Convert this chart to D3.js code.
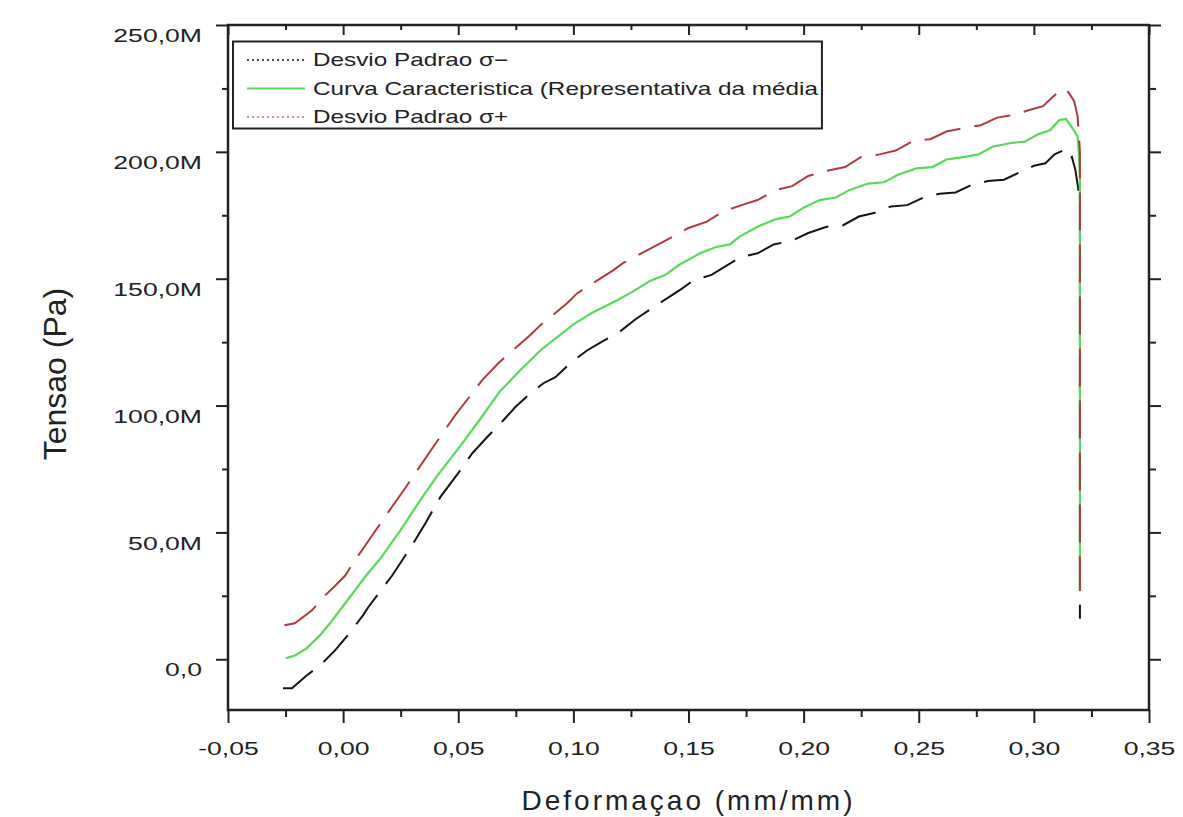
<!DOCTYPE html>
<html>
<head>
<meta charset="utf-8">
<script src="https://cdn.jsdelivr.net/npm/d3@7"></script>
<style>
  body { margin: 0; background: #fff; }
  text { font-family: "Liberation Sans", Arial, sans-serif; fill: #222; }
</style>
</head>
<body>
<svg id="chart" width="1183" height="817"></svg>
<script>
// strain (mm/mm) and stress (MPa)

var strainMenos = [-0.0261, -0.0222, -0.016, -0.010, -0.0035, 0.0025, 0.0087, 0.0109, 0.0213, 0.030, 0.036, 0.0422, 0.0509, 0.0561, 0.063, 0.0696, 0.0748, 0.081, 0.087, 0.0922, 0.099, 0.1061, 0.113, 0.120, 0.127, 0.1348, 0.142, 0.147, 0.1522, 0.160, 0.1726, 0.180, 0.187, 0.195, 0.202, 0.210, 0.217, 0.224, 0.231, 0.238, 0.245, 0.252, 0.259, 0.266, 0.273, 0.280, 0.287, 0.294, 0.300, 0.305, 0.309, 0.3125, 0.315, 0.3165, 0.318, 0.3192, 0.320, 0.320];
var tensaoMenos = [-11.4, -11.4, -6.5, -2.4, 3.5, 10, 17.4, 20.5, 33, 45, 54, 63.9, 74.5, 81.2, 88, 94.2, 99.4, 104.5, 108.8, 111.2, 117, 121.8, 125.5, 129, 134, 138.8, 143, 146, 149.4, 151.5, 158.5, 160, 163.5, 165, 168, 170.5, 171, 174.5, 176, 178.5, 179, 182, 183.5, 184, 187, 188.5, 189, 192, 194.5, 195.5, 199, 200.5, 197, 198, 193, 186, 180, 16];

var strainMedia = [-0.025, -0.021, -0.016, -0.010, -0.005, 0.000, 0.005, 0.010, 0.016, 0.025, 0.033, 0.041, 0.050, 0.059, 0.068, 0.077, 0.086, 0.093, 0.100, 0.108, 0.119, 0.126, 0.133, 0.140, 0.146, 0.155, 0.162, 0.168, 0.172, 0.180, 0.188, 0.194, 0.200, 0.207, 0.214, 0.220, 0.228, 0.235, 0.241, 0.249, 0.256, 0.262, 0.270, 0.276, 0.282, 0.290, 0.296, 0.302, 0.307, 0.311, 0.314, 0.317, 0.319, 0.3195, 0.320, 0.320];
var tensaoMedia = [0.4, 1.5, 4.2, 9.5, 15, 21, 27, 33, 39.5, 51, 62, 72.5, 83, 94, 105.5, 114, 122, 127, 132, 136.5, 141.5, 145, 149, 151.5, 155.5, 160, 162.5, 163.5, 166.5, 170.5, 173.5, 174.5, 178, 181, 182, 185, 187.5, 188, 191, 193.5, 194, 197, 198, 199, 202, 203.5, 204, 207, 208.5, 212.5, 213, 209, 206, 200, 190, 27];

var strainMais = [-0.0255, -0.021, -0.0135, -0.0087, -0.004, 0.0009, 0.0043, 0.012, 0.020, 0.027, 0.0322, 0.0435, 0.0487, 0.0604, 0.0674, 0.0813, 0.0857, 0.0974, 0.1017, 0.1174, 0.1217, 0.1322, 0.142, 0.150, 0.158, 0.165, 0.173, 0.180, 0.188, 0.195, 0.202, 0.210, 0.218, 0.225, 0.233, 0.240, 0.248, 0.255, 0.262, 0.270, 0.277, 0.284, 0.291, 0.298, 0.304, 0.308, 0.3125, 0.315, 0.3175, 0.319, 0.3195, 0.320, 0.320];
var tensaoMais = [13.4, 14.2, 19.3, 24.4, 28.5, 33, 37.9, 48, 58.5, 67.5, 74.5, 89.5, 96.2, 110, 116.7, 127.8, 131.7, 140.4, 144.3, 153.4, 156.2, 161.3, 166, 170, 172.5, 176.5, 179, 181, 185, 186.5, 190.5, 192.5, 194, 198, 199, 200.5, 204.5, 205, 208, 209.5, 210.5, 213.5, 214.5, 216.5, 218, 221.5, 225, 223.5, 220, 214, 207, 200, 27];

var yTicks = [0, 50, 100, 150, 200, 250];
var yMinor = [25, 75, 125, 175, 225];
var xTicks = [-0.05, 0, 0.05, 0.10, 0.15, 0.20, 0.25, 0.30, 0.35];
var xMinor = [-0.025, 0.025, 0.075, 0.125, 0.175, 0.225, 0.275, 0.325];

var legendLabels = ["Desvio Padrao \u03c3\u2212", "Curva Caracteristica (Representativa da m\u00e9dia", "Desvio Padrao \u03c3+"];

var svg = d3.select("#chart");

var x = d3.scaleLinear().domain([-0.05, 0.35]).range([228, 1149]);
var y = d3.scaleLinear().domain([-20, 250]).range([710, 25]);

var fmtY = function(d) { return d === 0 ? "0,0" : d3.format(".1f")(d).replace(".", ",") + "M"; };
var fmtX = function(d) { return d3.format(".2f")(d).replace(".", ",").replace("\u2212", "-"); };

var k = 1.4; // tick labels are drawn wide

// axes
function plain(g) {
  g.select(".domain").remove();
  g.selectAll("line").attr("stroke", "#222").attr("stroke-width", 2);
}

svg.append("g").attr("transform", "translate(228,0)")
    .call(d3.axisLeft(y).tickValues(yTicks).tickSize(12).tickFormat(fmtY))
    .call(plain)
    .selectAll("text")
      .attr("font-size", 19)
      .attr("fill", "#222")
      .attr("font-family", "Liberation Sans, Arial, sans-serif")
      .attr("x", -26 / k)
      .attr("y", 10)
      .attr("dy", "0.35em")
      .attr("transform", "scale(" + k + ",1)");

svg.append("g").attr("transform", "translate(228,0)")
    .call(d3.axisLeft(y).tickValues(yMinor).tickSize(6).tickFormat(""))
    .call(plain);

svg.append("g").attr("transform", "translate(1149,0)")
    .call(d3.axisRight(y).tickValues(yTicks).tickSize(12).tickFormat(""))
    .call(plain);
svg.append("g").attr("transform", "translate(1149,0)")
    .call(d3.axisRight(y).tickValues(yMinor).tickSize(7).tickFormat(""))
    .call(plain);

svg.append("g").attr("transform", "translate(0,710)")
    .call(d3.axisBottom(x).tickValues(xTicks).tickSize(13).tickFormat(fmtX))
    .call(plain)
    .selectAll("text")
      .attr("font-size", 19)
      .attr("fill", "#222")
      .attr("font-family", "Liberation Sans, Arial, sans-serif")
      .attr("y", 38)
      .attr("dy", "0.35em")
      .attr("transform", "scale(" + k + ",1)");

svg.append("g").attr("transform", "translate(0,710)")
    .call(d3.axisBottom(x).tickValues(xMinor).tickSize(7).tickFormat(""))
    .call(plain);

svg.append("g").attr("transform", "translate(0,25)")
    .call(d3.axisTop(x).tickValues(xTicks).tickSize(-10).tickFormat(""))
    .call(plain);
svg.append("g").attr("transform", "translate(0,25)")
    .call(d3.axisTop(x).tickValues(xMinor).tickSize(-5).tickFormat(""))
    .call(plain);

// frame
svg.append("rect")
    .attr("x", x(-0.05)).attr("y", y(250))
    .attr("width", x(0.35) - x(-0.05)).attr("height", y(-20) - y(250))
    .attr("fill", "none").attr("stroke", "#222").attr("stroke-width", 2.5);

// curves
var line = d3.line()
    .x(function(d) { return x(d[0]); })
    .y(function(d) { return y(d[1]); });

var series = [
  { sx: strainMenos, sy: tensaoMenos, color: "#151515", dash: "36,14", legendDash: "2,3", width: 2 },
  { sx: strainMedia, sy: tensaoMedia, color: "#5ad85a", dash: null, legendDash: null, width: 2.2 },
  { sx: strainMais, sy: tensaoMais, color: "#b23a3a", dash: "38,14", legendDash: "2,3", width: 2 }
];

series.forEach(function(s) {
  svg.append("path")
      .datum(d3.zip(s.sx, s.sy))
      .attr("d", line)
      .attr("fill", "none")
      .attr("stroke", s.color)
      .attr("stroke-width", s.width)
      .attr("stroke-dasharray", s.dash);
});

// legend
var legend = svg.append("g").attr("transform", "translate(233,41.5)");
var box = legend.append("rect")
    .attr("fill", "#fff").attr("stroke", "#222").attr("stroke-width", 2)
    .attr("height", 87);

var kl = 1.35;
var maxLen = 0;
legendLabels.forEach(function(label, i) {
  var yy = 18.5 + i * 28.5;
  legend.append("line")
      .attr("x1", 14).attr("x2", 72).attr("y1", yy).attr("y2", yy)
      .attr("stroke", i === 2 ? "#c77070" : series[i].color)
      .attr("stroke-width", i === 1 ? 2.2 : 1.6)
      .attr("stroke-dasharray", series[i].legendDash);
  var t = legend.append("text")
      .attr("transform", "translate(80," + yy + ") scale(" + kl + ",1)")
      .attr("dy", "0.35em")
      .attr("font-size", 18)
      .text(label);
  maxLen = Math.max(maxLen, t.node().getComputedTextLength() * kl);
});
box.attr("width", 80 + maxLen + 4);

// axis titles
svg.append("text")
    .attr("x", x(0.15)).attr("y", 800)
    .attr("text-anchor", "middle")
    .attr("dy", "0.35em")
    .attr("font-size", 28)
    .attr("letter-spacing", 3)
    .text("Deformaçao (mm/mm)");

svg.append("text")
    .attr("transform", "translate(55,374) rotate(-90)")
    .attr("text-anchor", "middle")
    .attr("dy", "0.35em")
    .attr("font-size", 32)
    .text("Tensao (Pa)");
</script>
</body>
</html>
